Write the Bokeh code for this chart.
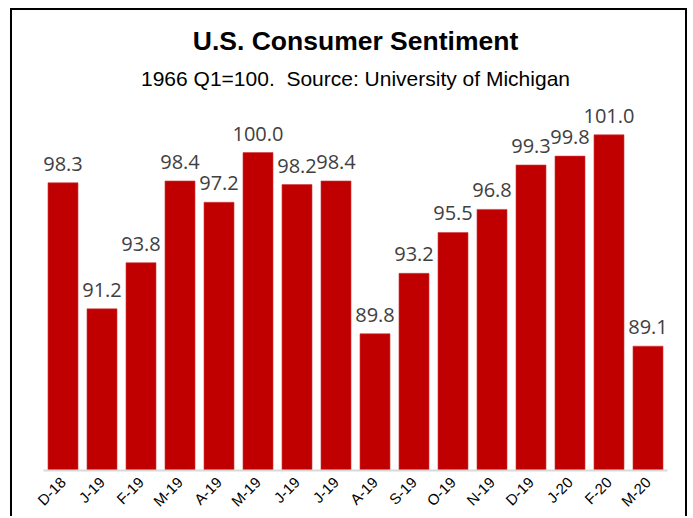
import math
from bokeh.plotting import figure
from bokeh.models import Title, FixedTicker, ColumnDataSource
from bokeh.core.properties import value
from bokeh.embed import file_html
from bokeh.resources import INLINE

months = ["D-18", "J-19", "F-19", "M-19", "A-19", "M-19", "J-19", "J-19",
          "A-19", "S-19", "O-19", "N-19", "D-19", "J-20", "F-20", "M-20"]
sentiment = [98.3, 91.2, 93.8, 98.4, 97.2, 100.0, 98.2, 98.4,
             89.8, 93.2, 95.5, 96.8, 99.3, 99.8, 101.0, 89.1]

Y_START = 82.1
Y_END = 103.1

xs = list(range(len(months)))
src = ColumnDataSource(dict(
    x=xs, top=sentiment,
    label=[f"{v:.1f}" for v in sentiment],
))

p = figure(width=677, height=508, output_backend="svg", toolbar_location=None,
           x_range=(-0.5, len(months) - 0.5), y_range=(Y_START, Y_END),
           title="U.S. Consumer Sentiment",
           min_border_left=31, min_border_right=22, min_border_top=87,
           min_border_bottom=48)
p.styles = {"border-top": "2px solid black", "border-left": "2px solid black",
            "border-right": "2px solid black", "margin-left": "10px",
            "margin-top": "8px"}

p.title.text_font = "Liberation Sans"
p.title.text_font_size = "26.5px"
p.title.text_font_style = "bold"
p.title.text_color = "black"
p.title.align = "center"
p.title.offset = -3
sub = Title(text="1966 Q1=100.\u00a0 Source: University of Michigan",
            text_font="Liberation Sans", text_font_size="21px",
            text_font_style="normal", text_color="black", align="center")
try:
    p.title.standoff = 3
    sub.standoff = 15
except AttributeError:
    pass
p.add_layout(sub, "above")

p.vbar(x="x", top="top", bottom=Y_START, width=0.77, source=src,
       fill_color="#C00000", line_color="#D23A3A", line_width=0.6)
p.text(x="x", y="top", text="label", source=src, text_align="center",
       text_baseline="alphabetic", y_offset=-19, text_font=value("Open Sans"),
       text_font_size="20px", text_color="#404040")

p.yaxis.visible = False
p.xgrid.visible = False
p.ygrid.visible = False
p.outline_line_color = None

ax = p.xaxis[0]
ax.ticker = FixedTicker(ticks=xs)
ax.major_label_overrides = {i: m for i, m in enumerate(months)}
ax.major_label_orientation = math.pi / 4
ax.major_label_text_font = "Liberation Sans"
ax.major_label_text_font_size = "15px"
ax.major_label_text_color = "black"
ax.major_tick_line_color = None
ax.minor_tick_line_color = None
ax.major_tick_out = 0
ax.major_tick_in = 0
ax.axis_line_color = "#D9D9D9"
ax.axis_line_width = 2
ax.major_label_standoff = 9

open("out.html", "w").write(file_html(p, INLINE))
